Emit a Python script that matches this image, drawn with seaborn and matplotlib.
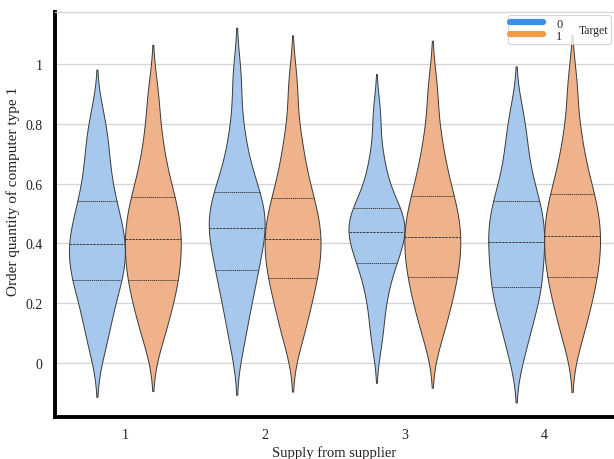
import matplotlib
matplotlib.use("Agg")
import matplotlib.pyplot as plt
from matplotlib.lines import Line2D
from matplotlib.offsetbox import HPacker
import pandas as pd
import seaborn as sns

# Supplier categories and target groups
suppliers = [1, 2, 3, 4]
targets = [0, 1]

# Order quantities (computer type 1) per supplier and target group
s1_t0 = [0.045, 0.11, 0.165, 0.205, 0.245, 0.277, 0.30, 0.325, 0.35, 0.375, 0.397,
         0.42, 0.445, 0.475, 0.505, 0.54, 0.58, 0.635, 0.69, 0.75, 0.823]
s1_t1 = [0.07, 0.13, 0.175, 0.215, 0.25, 0.277, 0.305, 0.335, 0.36, 0.39, 0.414,
         0.44, 0.465, 0.495, 0.525, 0.554, 0.59, 0.64, 0.70, 0.78, 0.90]
s2_t0 = [0.06, 0.14, 0.195, 0.245, 0.28, 0.31, 0.345, 0.38, 0.405, 0.43, 0.451,
         0.475, 0.495, 0.52, 0.545, 0.571, 0.605, 0.65, 0.71, 0.80, 0.955]
s2_t1 = [0.07, 0.13, 0.175, 0.22, 0.255, 0.284, 0.31, 0.34, 0.365, 0.39, 0.414,
         0.44, 0.465, 0.49, 0.52, 0.551, 0.59, 0.64, 0.70, 0.78, 0.93]
s3_t0 = [0.07, 0.15, 0.215, 0.265, 0.30, 0.334, 0.36, 0.38, 0.40, 0.42, 0.438,
         0.455, 0.47, 0.485, 0.50, 0.518, 0.545, 0.585, 0.635, 0.70, 0.83]
s3_t1 = [0.08, 0.14, 0.185, 0.225, 0.258, 0.287, 0.315, 0.345, 0.37, 0.395, 0.42,
         0.445, 0.47, 0.50, 0.525, 0.557, 0.595, 0.645, 0.70, 0.78, 0.915]
s4_t0 = [0.03, 0.10, 0.155, 0.195, 0.225, 0.254, 0.285, 0.315, 0.345, 0.375, 0.404,
         0.43, 0.455, 0.48, 0.51, 0.54, 0.575, 0.62, 0.68, 0.75, 0.83]
s4_t1 = [0.07, 0.135, 0.18, 0.222, 0.257, 0.287, 0.315, 0.345, 0.37, 0.40, 0.424,
         0.45, 0.475, 0.505, 0.535, 0.564, 0.60, 0.65, 0.71, 0.79, 0.93]

y_ticks = [0, 0.2, 0.4, 0.6, 0.8, 1]
y_tick_labels = ["0", "0.2", "0.4", "0.6", "0.8", "1"]

groups = {
    (1, 0): s1_t0, (1, 1): s1_t1,
    (2, 0): s2_t0, (2, 1): s2_t1,
    (3, 0): s3_t0, (3, 1): s3_t1,
    (4, 0): s4_t0, (4, 1): s4_t1,
}
rows = []
for (sup, tgt), vals in groups.items():
    for v in vals:
        rows.append({"Supplier": str(sup), "Target": str(tgt), "Quantity": v})
df = pd.DataFrame(rows)

sns.set_theme(style="whitegrid")
plt.rcParams["font.family"] = ["Liberation Serif", "DejaVu Serif"]

fill_colors = ["#a6c8ec", "#f0b28a"]
handle_colors = ["#3f8de4", "#f29a48"]

fig = plt.figure(figsize=(6.14, 4.6), dpi=100)
ax = fig.add_axes([55 / 614, 1 - 418 / 460, (614 - 55) / 614, (418 - 13) / 460])

sns.violinplot(
    data=df, x="Supplier", y="Quantity", hue="Target",
    order=[str(s) for s in suppliers], hue_order=[str(t) for t in targets],
    palette=fill_colors, saturation=1, inner="quart",
    density_norm="width", bw_method=0.38, cut=2, width=0.8,
    linewidth=0.7, linecolor="#3a3a3a", legend=False, ax=ax,
)

ax.set_xlim(-0.5, 3.5)
ax.set_ylim(-0.181, 1.174)
ax.set_yticks(y_ticks)
ax.set_yticklabels(y_tick_labels)
ax.grid(axis="x", visible=False)
ax.grid(axis="y", color="#d4d4d4", linewidth=0.9)
ax.tick_params(axis="both", length=0, labelsize=10, colors="#222222")
ax.tick_params(axis="y", pad=9)
ax.tick_params(axis="x", pad=8)
ax.set_xlabel("Supply from supplier", fontsize=10.5, color="#222222", labelpad=3)
ax.set_ylabel("Order quantity of computer type 1", fontsize=11, color="#222222")
ax.yaxis.set_label_coords(-0.062, 0.56)

for side in ["left", "bottom"]:
    ax.spines[side].set_color("black")
    ax.spines[side].set_linewidth(2.8)
ax.spines["top"].set_color("#d4d4d4")
ax.spines["top"].set_linewidth(0.9)
ax.spines["right"].set_visible(False)

handles = [Line2D([0], [0], color=c, lw=4.5, solid_capstyle="round") for c in handle_colors]
leg = ax.legend(handles, [str(t) for t in targets], title="Target", loc="upper right",
                bbox_to_anchor=(0.999, 0.998), borderaxespad=0.2,
                fontsize=9, title_fontsize=8.5,
                handlelength=2.6, handletextpad=1.1, labelspacing=0.0,
                borderpad=0.15, frameon=True, fancybox=True)
leg.get_frame().set_edgecolor("#cccccc")
leg.get_frame().set_linewidth(0.8)

# put the legend title to the right of the entries
fs = leg._fontsize
box = HPacker(pad=0.2 * fs, sep=1.3 * fs, align="center",
              children=[leg._legend_handle_box, leg._legend_title_box])
box.set_figure(fig)
box.axes = ax
leg._legend_box = box
leg._legend_box.set_offset(leg._findoffset)

fig.savefig("out.png", dpi=100)
